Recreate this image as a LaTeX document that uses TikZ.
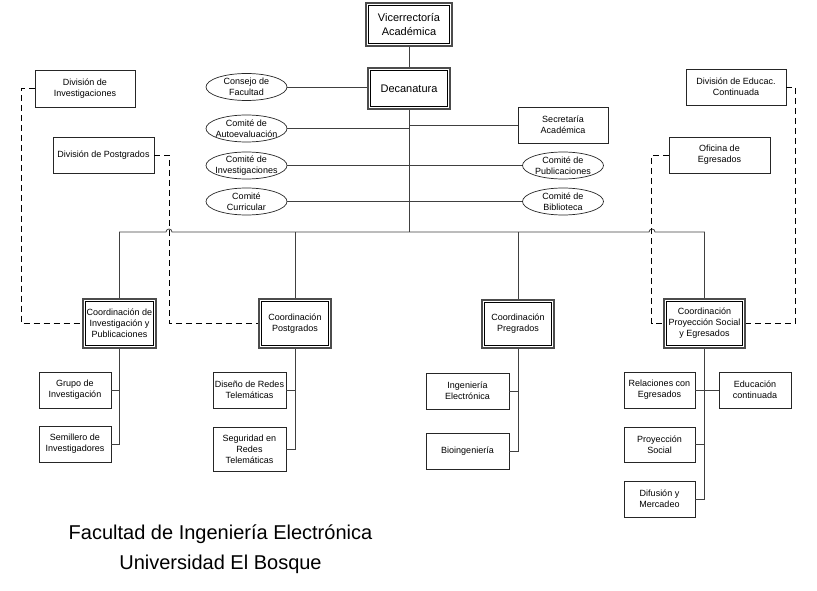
\documentclass[tikz,border=0pt]{standalone}
\usepackage{fontspec}
\setmainfont{Liberation Sans}
\usepackage{tikz}
\usetikzlibrary{shapes.geometric}
\tikzstyle{unit}=[draw=black!85, line width=0.7pt, inner sep=1pt, align=center, font=\fontsize{9}{11}\selectfont]
\tikzstyle{dunit}=[unit, draw=black!70, line width=1.6pt, path picture={\draw[black, line width=0.6pt] ([shift={(2.6pt,2.6pt)}]path picture bounding box.south west) rectangle ([shift={(-2.6pt,-2.6pt)}]path picture bounding box.north east);}]
\tikzstyle{eunit}=[unit, ellipse, inner xsep=-3pt, inner ysep=-1pt, minimum width=81pt, minimum height=27pt]
\tikzstyle{link}=[draw=black!75, line width=0.8pt]
\tikzstyle{dlink}=[link, draw=black, dash pattern=on 6pt off 4pt]

\begin{document}
\begin{tikzpicture}[x=1pt, y=-1pt]
        \useasboundingbox (0,0) rectangle (817,591);
        % direccion
        \node[dunit, minimum width=86pt, minimum height=43pt, font=\fontsize{11}{14}\selectfont] (vice) at (409, 24.5) {Vicerrectoría\\Académica};
        \node[dunit, minimum width=82pt, minimum height=41pt, font=\fontsize{11}{14}\selectfont] (deca) at (409, 88.5) {Decanatura};
        \coordinate (bus) at (409, 232);
        % comites
        \node[eunit] (consejo) at (246.5, 87) {Consejo de\\Facultad};
        \node[eunit] (autoeval) at (246.5, 128.5) {Comité de\\Autoevaluación};
        \node[eunit] (cominv) at (246.5, 165.5) {Comité de\\Investigaciones};
        \node[eunit] (curric) at (246.5, 201.5) {Comité\\Curricular};
        \node[unit, minimum width=90pt, minimum height=36pt] (secre) at (563, 125) {Secretaría\\Académica};
        \node[eunit] (publi) at (563, 165.5) {Comité de\\Publicaciones};
        \node[eunit] (biblio) at (563, 201.5) {Comité de\\Biblioteca};
        % divisiones
        \node[unit, minimum width=100pt, minimum height=37pt] (divinv) at (85, 88.5) {División de\\Investigaciones};
        \node[unit, minimum width=101pt, minimum height=36pt] (divpos) at (103.5, 155) {División de Postgrados};
        \node[unit, minimum width=100pt, minimum height=36pt] (diveduc) at (736, 87) {División de Educac.\\Continuada};
        \node[unit, minimum width=101pt, minimum height=36pt] (oficina) at (719.5, 155) {Oficina de\\Egresados};
        % coordinaciones
        \node[dunit, minimum width=73pt, minimum height=49pt] (coordinv) at (119.5, 323.5) {Coordinación de\\Investigación y\\Publicaciones};
        \node[dunit, minimum width=72pt, minimum height=49pt] (coordpos) at (295, 323.5) {Coordinación\\Postgrados};
        \node[dunit, minimum width=72pt, minimum height=48pt] (coordpre) at (518, 324) {Coordinación\\Pregrados};
        \node[dunit, minimum width=81pt, minimum height=49pt] (coordproy) at (704.5, 323.5) {Coordinación\\Proyección Social\\y Egresados};
        % grupos y programas
        \node[unit, minimum width=72pt, minimum height=36pt] (grupo) at (75, 390) {Grupo de\\Investigación};
        \node[unit, minimum width=72pt, minimum height=36pt] (semillero) at (75, 444) {Semillero de\\Investigadores};
        \node[unit, minimum width=73pt, minimum height=36pt] (diseno) at (249.5, 390) {Diseño de Redes\\Telemáticas};
        \node[unit, minimum width=73pt, minimum height=44pt] (segur) at (249.5, 449) {Seguridad en\\Redes\\Telemáticas};
        \node[unit, minimum width=83pt, minimum height=36pt] (ingelec) at (467.5, 391) {Ingeniería\\Electrónica};
        \node[unit, minimum width=83pt, minimum height=36pt] (bioing) at (467.5, 451) {Bioingeniería};
        \node[unit, minimum width=71pt, minimum height=36pt] (relac) at (659.5, 390) {Relaciones con\\Egresados};
        \node[unit, minimum width=72pt, minimum height=36pt] (educ) at (755, 390) {Educación\\continuada};
        \node[unit, minimum width=71pt, minimum height=35pt] (proysoc) at (659.5, 444.5) {Proyección\\Social};
        \node[unit, minimum width=71pt, minimum height=36pt] (difus) at (659.5, 499) {Difusión y\\Mercadeo};
        \node[align=center, font=\fontsize{20}{30}\selectfont] (titulo) at (220.5, 549) {Facultad de Ingeniería Electrónica\\Universidad El Bosque};
        % tronco
        \draw[link] (vice.south) -- (deca.north);
        \draw[link] (deca.south) -- (bus);
        \draw[link] (consejo.east) -- (consejo.east -| deca.west);
        \foreach \c in {autoeval, cominv, curric} {
            \draw[link] (\c.east) -- (\c.east -| bus);
        }
        \foreach \c in {secre, publi, biblio} {
            \draw[link] (\c.west) -- (\c.west -| bus);
        }
        \coordinate (hopA) at (166, 232);
        \coordinate (hopB) at (649, 232);
        \draw[link] (coordinv.north) -- (coordinv.north |- bus) -- (hopA) arc[start angle=180, end angle=0, radius=3pt] -- (hopB) arc[start angle=180, end angle=0, radius=3pt] -- (coordproy.north |- bus) -- (coordproy.north);
        \draw[link] (coordpos.north |- bus) -- (coordpos.north);
        \draw[link] (coordpre.north |- bus) -- (coordpre.north);
        % dependencias
        \draw[link] (coordinv.south) |- (semillero.east);
        \draw[link] (grupo.east) -- (grupo.east -| coordinv.south);
        \draw[link] (coordpos.south) |- (segur.east);
        \draw[link] (diseno.east) -- (diseno.east -| coordpos.south);
        \draw[link] (coordpre.south) |- (bioing.east);
        \draw[link] (ingelec.east) -- (ingelec.east -| coordpre.south);
        \draw[link] (coordproy.south) |- (difus.east);
        \draw[link] (relac.east) -- (educ.west);
        \draw[link] (proysoc.east) -- (proysoc.east -| coordproy.south);
        % apoyo
        \draw[dlink] (divinv.west) -- ++(-13, 0) |- (coordinv.west);
        \draw[dlink] (divpos.east) -- ++(15, 0) |- (coordpos.west);
        \draw[dlink] (oficina.west) -- ++(-17, 0) |- (coordproy.west);
        \draw[dlink] (diveduc.east) -- ++(9, 0) |- (coordproy.east);
    \end{tikzpicture}
\end{document}
